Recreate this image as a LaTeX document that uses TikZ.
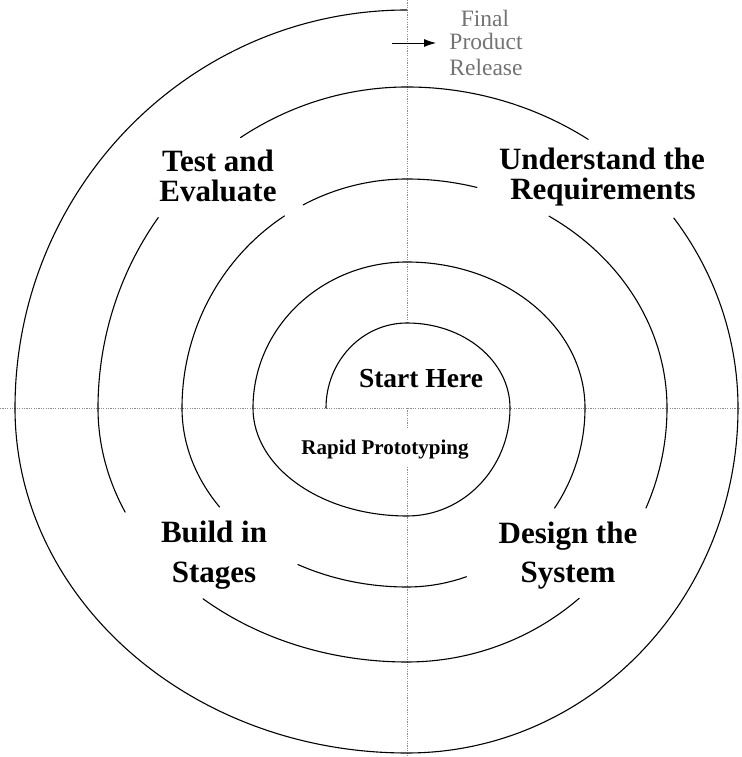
\documentclass[tikz,border=0pt]{standalone}
\usepackage{fontspec}
\setmainfont{Liberation Serif}
\usetikzlibrary{arrows.meta}
\definecolor{fprgray}{gray}{0.45}
\begin{document}
\begin{tikzpicture}[x=1pt,y=1pt,
  spiral/.style={line width=1.1pt, black, line cap=round},
  axisline/.style={black!45, line width=0.7pt, dash pattern=on 1.2pt off 1.2pt},
  big/.style={font=\bfseries\fontsize{31}{31}\selectfont, inner sep=0pt, anchor=base},
  mid/.style={font=\bfseries\fontsize{27.5}{27.5}\selectfont, inner sep=0pt, anchor=base},
  small/.style={font=\bfseries\fontsize{21}{21}\selectfont, inner sep=0pt, anchor=base},
  fin/.style={font=\fontsize{23.5}{23.5}\selectfont, text=fprgray, inner sep=0pt, anchor=base}]
\useasboundingbox (0,0) rectangle (741,757);
\coordinate (C) at (407,349);
% dotted axes
\coordinate (axL) at (0,349);
\coordinate (axR) at (741,349);
\coordinate (axT) at (407,757);
\coordinate (v1) at (407,434);
\coordinate (v2) at (407,329);
\coordinate (v3) at (407,290);
\coordinate (axB) at (407,0);
\draw[axisline] (axL) -- (axR);
\draw[axisline] (axT) -- (v1);
\draw[axisline] (C) -- (v2);
\draw[axisline] (v3) -- (axB);
% spiral runs
\draw[spiral] ([shift={(180:81pt and 85pt)}]C)
  arc[start angle=180,end angle=90,x radius=81pt,y radius=85pt]
  arc[start angle=90,end angle=0,x radius=103pt,y radius=85pt]
  arc[start angle=0,end angle=-90,x radius=103pt,y radius=108pt]
  arc[start angle=-90,end angle=-180,x radius=154pt,y radius=108pt]
  arc[start angle=180,end angle=90,x radius=154pt,y radius=146pt]
  arc[start angle=90,end angle=0,x radius=178pt,y radius=146pt]
  arc[start angle=0,end angle=-34,x radius=178pt,y radius=179pt];
\draw[spiral] ([shift={(-70.5:178pt and 179pt)}]C)
  arc[start angle=-70.5,end angle=-90,x radius=178pt,y radius=179pt]
  arc[start angle=-90,end angle=-119,x radius=225pt,y radius=179pt];
\draw[spiral] ([shift={(-146.4:225pt and 179pt)}]C)
  arc[start angle=-146.4,end angle=-180,x radius=225pt,y radius=179pt]
  arc[start angle=180,end angle=123,x radius=225pt,y radius=229pt];
\draw[spiral] ([shift={(117.5:225pt and 229pt)}]C)
  arc[start angle=117.5,end angle=90,x radius=225pt,y radius=229pt]
  arc[start angle=90,end angle=74.4,x radius=260pt,y radius=229pt];
\draw[spiral] ([shift={(56.9:260pt and 229pt)}]C)
  arc[start angle=56.9,end angle=0,x radius=260pt,y radius=229pt]
  arc[start angle=0,end angle=-23.2,x radius=260pt,y radius=254pt];
\draw[spiral] ([shift={(-48.5:260pt and 254pt)}]C)
  arc[start angle=-48.5,end angle=-90,x radius=260pt,y radius=254pt]
  arc[start angle=-90,end angle=-131.3,x radius=309pt,y radius=254pt];
\draw[spiral] ([shift={(-155.8:309pt and 254pt)}]C)
  arc[start angle=-155.8,end angle=-180,x radius=309pt,y radius=254pt]
  arc[start angle=180,end angle=143.6,x radius=309pt,y radius=321pt];
\draw[spiral] ([shift={(122.6:309pt and 321pt)}]C)
  arc[start angle=122.6,end angle=90,x radius=309pt,y radius=321pt]
  arc[start angle=90,end angle=56.8,x radius=331pt,y radius=321pt];
\draw[spiral] ([shift={(36.3:331pt and 321pt)}]C)
  arc[start angle=36.3,end angle=0,x radius=331pt,y radius=321pt]
  arc[start angle=0,end angle=-90,x radius=331pt,y radius=345pt]
  arc[start angle=-90,end angle=-180,x radius=392pt,y radius=345pt]
  arc[start angle=180,end angle=90,x radius=392pt,y radius=398pt];
% labels
\node[big] (t1) at (218,585) {Test and};
\node[big] (t2) at (218,555) {Evaluate};
\node[big] (u1) at (602,587) {Understand the};
\node[big] (u2) at (603,557) {Requirements};
\node[big] (b1) at (214,214) {Build in};
\node[big] (b2) at (214,174) {Stages};
\node[big] (d1) at (568,213) {Design the};
\node[big] (d2) at (568,174) {System};
\node[mid] (sh) at (421,369) {Start Here};
\node[small] (rp) at (385,302) {Rapid Prototyping};
\node[fin] (f1) at (485,730) {Final};
\node[fin] (f2) at (486,707) {Product};
\node[fin] (f3) at (486,681) {Release};
% arrow
\coordinate (arS) at (392,714);
\coordinate (arE) at (436,714);
\draw[-{Latex[length=12pt,width=8pt]}, line width=0.8pt] (arS) -- (arE);
\end{tikzpicture}
\end{document}
